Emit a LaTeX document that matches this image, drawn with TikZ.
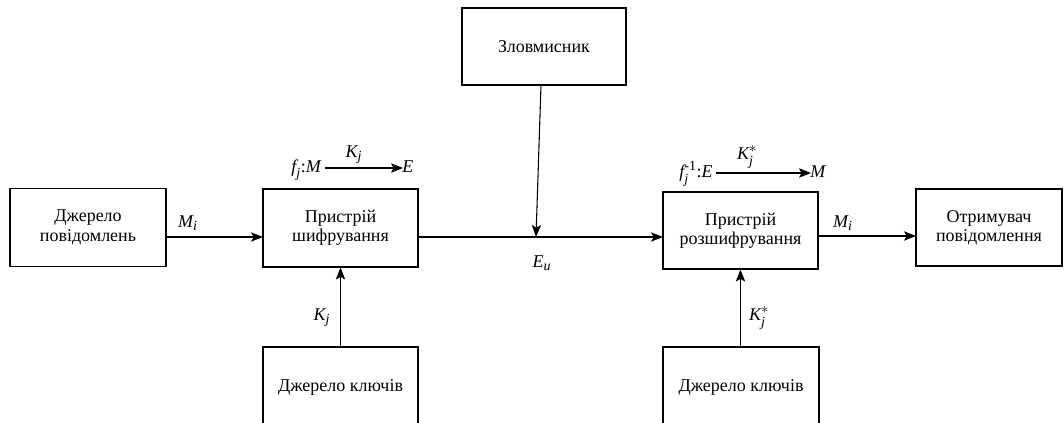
\documentclass[tikz,border=0pt]{standalone}
\usepackage{amsmath}
\usepackage{fontspec}
\setmainfont{Liberation Serif}
\DeclareMathSizes{13.5}{13.5}{10.5}{8}
\usetikzlibrary{arrows.meta}
\newcommand{\vr}[1]{\textit{#1}}
\begin{document}
\begin{tikzpicture}[x=0.75pt,y=-0.75pt,
  every node/.style={font=\fontsize{13.5}{14.5}\selectfont},
  blk/.style={draw, line width=0.8pt, align=center, inner sep=0pt},
  lbl/.style={inner sep=0pt},
  arr/.style={line width=0.8pt, -{Stealth[length=9pt,width=7pt,inset=2pt]}}]
\useasboundingbox (0,0) rectangle (1064,423);
\clip (0,0) rectangle (1064,423);

% blocks
\node[blk, minimum width=117pt, minimum height=58.5pt] (src) at (88,227.5) {Джерело\\повідомлень};
\node[blk, minimum width=116.25pt, minimum height=58.5pt] (enc) at (340.5,228) {Пристрій\\шифрування};
\node[blk, minimum width=123pt, minimum height=57.75pt] (att) at (544,46.5) {Зловмисник};
\node[blk, minimum width=116.25pt, minimum height=57.75pt] (dec) at (740.5,230.5) {Пристрій\\розшифрування};
\node[blk, minimum width=109.5pt, minimum height=57.75pt] (rcv) at (989,227.5) {Отримувач\\повідомлення};
\node[blk, minimum width=116.25pt, minimum height=60pt] (key1) at (340.5,387) {Джерело ключів};
\node[blk, minimum width=117pt, minimum height=60pt] (key2) at (741,387) {Джерело ключів};

% channel line and tap points
\coordinate (srcOut) at (166,237);
\coordinate (encIn) at (263,237);
\coordinate (encOut) at (418,237);
\coordinate (decIn) at (663,237);
\coordinate (atkTop) at (541,85);
\coordinate (atkHit) at (536,237);
\coordinate (decOut) at (818,236);
\coordinate (rcvIn) at (916,236);

\draw[arr] (srcOut) -- (encIn);
\draw[arr] (encOut) -- (decIn);
\draw[arr] (atkTop) -- (atkHit);
\draw[arr] (decOut) -- (rcvIn);
\draw[arr] (key1.north) -- (enc.south);
\draw[arr] (key2.north -| dec.south) -- (dec.south);

% signal labels
\node[lbl] (mi1) at (188,223) {$\vr{M}_{\vr{i}}$};
\node[lbl] (mi2) at (843,223) {$\vr{M}_{\vr{i}}$};
\node[lbl] (eu) at (542,263) {$\vr{E}_{\vr{u}}$};
\node[lbl] (kj1) at (322,318) {$\vr{K}_{\vr{j}}$};
\node[lbl] (kj2) at (759,318) {$\vr{K}^{*}_{\vr{j}}$};

% encryption mapping
\node[lbl, anchor=base east] (fenc) at (322,173) {$\vr{f}_{\vr{j}}$:\vr{M}};
\node[lbl, anchor=base west] (eenc) at (402,173) {\vr{E}};
\coordinate (fa1) at (325,168);
\coordinate (fa2) at (403,168);
\draw[arr] (fa1) -- (fa2);
\node[lbl] (kenc) at (354,155) {$\vr{K}_{\vr{j}}$};

% decryption mapping
\node[lbl, anchor=base east] (fdec) at (713,178) {$\vr{f}^{\text{-1}}_{\vr{j}}$:\vr{E}};
\node[lbl, anchor=base west] (mdec) at (810,178) {\vr{M}};
\coordinate (fb1) at (716,173);
\coordinate (fb2) at (811,173);
\draw[arr] (fb1) -- (fb2);
\node[lbl] (kdec) at (747,157) {$\vr{K}^{*}_{\vr{j}}$};
\end{tikzpicture}
\end{document}
